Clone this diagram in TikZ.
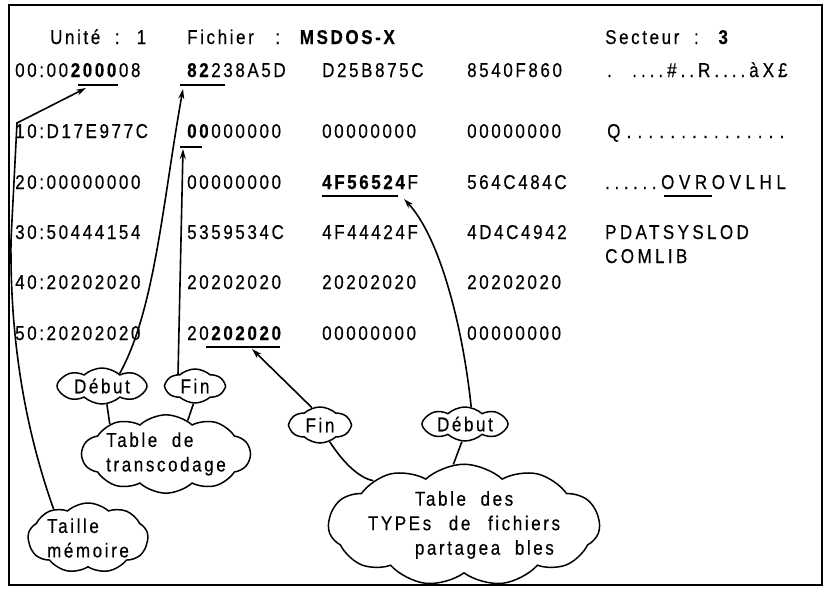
\documentclass[tikz,border=0pt]{standalone}
\usepackage{fontspec}
\setmainfont{Liberation Sans}
\newfontfamily\hexfont[FakeStretch=0.85,FakeBold=0.4,LetterSpace=13,WordSpace=2]{Liberation Sans}
\usetikzlibrary{shapes.symbols,arrows.meta}
% wider letter spacing for the character column
\newcommand\spaced[2]{{\addfontfeatures{LetterSpace=#1}#2}}

\begin{document}
\begin{tikzpicture}[x=1pt,y=-1pt,
  hex/.style={anchor=base west, inner sep=0pt, font=\hexfont\fontsize{20}{20}\selectfont},
  bubble/.style={cloud, cloud ignores aspect, draw, line width=1.5pt, cloud puff arc=85,
    font=\hexfont\fontsize{20}{24.5}\selectfont, align=left, inner sep=0pt},
  link/.style={line width=1.6pt},
  pointer/.style={line width=1.6pt, -{Stealth[length=10pt,width=6pt]}},
  underbar/.style={line width=1.6pt}
]
\useasboundingbox (0,0) rectangle (827,590);
\draw[line width=1.4pt] (9,5) rectangle (822,585);

% header
\node[hex] (hdrU) at (50,44) {Unité : 1};
\node[hex] (hdrF) at (187,44) {Fichier\hspace{7pt} : \textbf{MSDOS-X}};
\node[hex] (hdrS) at (605,44) {Secteur : \textbf{3}};

% sector dump
\node[hex] (r0c0) at (15,77) {00:00\textbf{2000}08};
\node[hex] (r0c1) at (187,77) {\textbf{82}238A5D};
\node[hex] (r0c2) at (322,77) {D25B875C};
\node[hex] (r0c3) at (467,77) {8540F860};
\node[hex] (r0c4) at (607,77) {\spaced{20}{. ....\#..R....àX£}};

\node[hex] (r1c0) at (15,138) {10:D17E977C};
\node[hex] (r1c1) at (187,138) {\textbf{00}000000};
\node[hex] (r1c2) at (322,138) {00000000};
\node[hex] (r1c3) at (467,138) {00000000};
\node[hex] (r1c4) at (607,138) {\spaced{31}{Q...............}};

\node[hex] (r2c0) at (15,189) {20:00000000};
\node[hex] (r2c1) at (187,189) {00000000};
\node[hex] (r2c2) at (322,189) {\textbf{4F56524}F};
\node[hex] (r2c3) at (467,189) {564C484C};
\node[hex] (r2c4) at (605,189) {\spaced{23}{......OVROVLHL}};

\node[hex] (r3c0) at (15,239) {30:50444154};
\node[hex] (r3c1) at (187,239) {5359534C};
\node[hex] (r3c2) at (322,239) {4F44424F};
\node[hex] (r3c3) at (467,239) {4D4C4942};
\node[hex] (r3c4) at (605,239) {\spaced{17}{PDATSYSLOD}};
\node[hex] (r3c5) at (605,263) {\spaced{17}{COMLIB}};

\node[hex] (r4c0) at (15,289) {40:20202020};
\node[hex] (r4c1) at (187,289) {20202020};
\node[hex] (r4c2) at (322,289) {20202020};
\node[hex] (r4c3) at (467,289) {20202020};

\node[hex] (r5c0) at (15,340) {50:20202020};
\node[hex] (r5c1) at (187,340) {20\textbf{202020}};
\node[hex] (r5c2) at (322,340) {00000000};
\node[hex] (r5c3) at (467,340) {00000000};

% underlined fields
\draw[underbar] (78,85) -- (118,85);
\draw[underbar] (180,85) -- (225,85);
\draw[underbar] (180,147) -- (202,147);
\draw[underbar] (322,196) -- (398,196);
\draw[underbar] (664,196) -- (712,196);
\draw[underbar] (206,347) -- (280,347);

\coordinate (tipTaille) at (86,88);
\coordinate (tipDebL) at (183,89);
\coordinate (tipFinL) at (183,149);
\coordinate (tipFinR) at (252,349);
\coordinate (tipDebR) at (404,199);

% callout clouds
\node[bubble, cloud puffs=8, minimum width=90pt, minimum height=36pt] (debutL) at (102,386) {Début};
\node[bubble, cloud puffs=6, minimum width=58pt, minimum height=34pt] (finL) at (195,386) {Fin};
\node[bubble, cloud puffs=10, minimum width=168pt, minimum height=72pt] (tabTrans) at (166,454) {Table de\\transcodage};
\node[bubble, cloud puffs=9, minimum width=120pt, minimum height=70pt] (taille) at (88,538) {Taille\\mémoire};
\node[bubble, cloud puffs=6, minimum width=60pt, minimum height=36pt] (finR) at (320,425) {Fin};
\node[bubble, cloud puffs=8, minimum width=86pt, minimum height=34pt] (debutR) at (465,424) {Début};
\node[bubble, cloud puffs=11, minimum width=240pt, minimum height=110pt] (tabTypes) at (464,525)
  {\hspace*{47pt}Table des\\TYPEs\hspace{3pt} de\hspace{3pt} fichiers\\\hspace*{47pt}partagea bles};

% pointers to the fields
\draw[pointer] (taille.140) .. controls (22,420) and (10,330) .. (11,240) -- (17,123) -- (tipTaille);
\draw[pointer] (debutL.35) .. controls (155,310) and (163,200) .. (tipDebL);
\draw[pointer] (finL.145) -- (tipFinL);
\draw[pointer] (finR.115) -- (tipFinR);
\draw[pointer] (debutR.70) .. controls (462,320) and (438,235) .. (tipDebR);

% links between clouds
\draw[link] (debutL.-75) -- (tabTrans.152);
\draw[link] (finL.-95) -- (tabTrans.57);
\draw[link] (finR.-60) .. controls (345,465) and (360,478) .. (tabTypes.154);
\draw[link] (debutR.-100) -- (tabTypes.100);
\end{tikzpicture}
\end{document}
